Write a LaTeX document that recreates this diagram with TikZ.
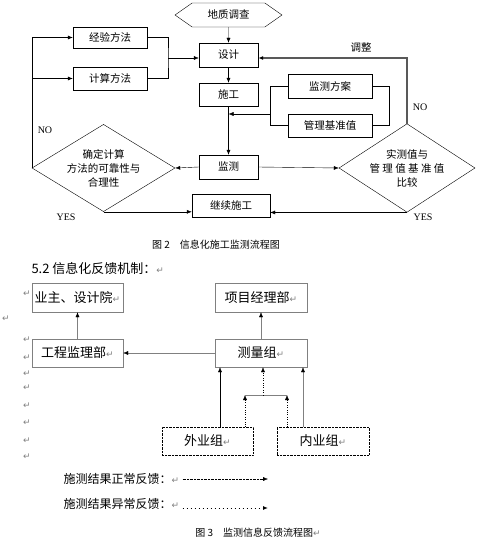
\documentclass[tikz,border=0pt]{standalone}
\usepackage{fontspec}
\setmainfont{Noto Sans CJK SC}
\newfontfamily\retfont{DejaVu Sans}
\newfontfamily\latinfont{Liberation Serif}
\usetikzlibrary{arrows.meta, positioning, shapes.geometric, shapes.symbols, calc}
\newcommand{\ret}{{\retfont\color{gray}\fontsize{9}{10}\selectfont ↵}}

\begin{document}
\begin{tikzpicture}[x=1pt, y=-1pt,
                box/.style={draw, minimum height=23pt, inner sep=2pt, font=\fontsize{10.5}{12}\selectfont},
                fbbox/.style={draw=gray, minimum width=91pt, minimum height=28pt, inner sep=2pt, font=\fontsize{13}{15}\selectfont},
                choice/.style={draw, diamond, inner sep=-6pt, align=center, font=\fontsize{10.5}{14}\selectfont},
                arrow/.style={-{Latex[length=5pt, width=4pt, color=black]}},
                tag/.style={font=\latinfont\fontsize{10}{12}\selectfont},
                caption/.style={font=\fontsize{10}{12}\selectfont}]

                \useasboundingbox (0,0) rectangle (483,543);

                % Flow chart
                \node[draw, signal, signal to=west and east, signal pointer angle=70, minimum width=107pt, minimum height=24pt, font=\fontsize{10.5}{12}\selectfont] (geo) at (228.5,15) {地质调查};
                \node[box, minimum width=59pt, minimum height=24pt] (design) at (228.5,55) {设计};
                \node[box, minimum width=59pt] (build) at (228.5,94.5) {施工};
                \node[box, minimum width=59pt, minimum height=24pt] (monitor) at (228.5,167) {监测};
                \node[box, minimum width=78pt] (resume) at (231,206) {继续施工};
                \node[box, minimum width=74pt, minimum height=21pt] (empiric) at (110,37.5) {经验方法};
                \node[box, minimum width=74pt] (calc) at (110,78.5) {计算方法};
                \node[box, minimum width=84pt, minimum height=24pt] (scheme) at (330,86) {监测方案};
                \node[box, minimum width=84pt] (bench) at (330,125.5) {管理基准值};
                \node[choice, minimum width=143pt, minimum height=78pt] (check) at (103.5,168) {确定计算\\方法的可靠性与\\合理性};
                \node[choice, minimum width=136pt, minimum height=79pt] (compare) at (407,168) {实测值与\\管 理 值 基 准 值\\比较};

                % Connectors
                \draw[arrow] (geo) -- (design);
                \draw[arrow] (design) -- (build);
                \draw[arrow] (build) -- (monitor);
                \coordinate (merge) at (168,58);
                \draw (empiric.east) -| (merge) |- (calc.east);
                \draw[arrow] (merge) -- (merge -| design.west);
                \draw[arrow] (check.west) |- (empiric.west);
                \draw[arrow] (check.west |- calc.west) -- (calc.west);
                \draw[arrow] (monitor.west) -- (check.east);
                \draw[arrow] (monitor.east) -- (compare.west);
                \draw[arrow] (check.south) -- (check.south -| resume.west);
                \draw[arrow] (compare.south) -- (compare.south -| resume.east);
                \draw[arrow, gray!70!black, line width=1.2pt] (compare.north) |- (merge -| design.east);
                \draw (scheme.west) -- ++(-18,0) |- (bench.west);
                \draw (scheme.east) -- ++(17,0) |- (bench.east);
                \coordinate (feed) at (270,114);
                \draw[arrow] (feed) -- (feed -| build.south);

                % Labels
                \node[tag] (noleft) at (45,130) {NO};
                \node[tag] (yesleft) at (66,217) {YES};
                \node[tag] (noright) at (420,107) {NO};
                \node[tag] (yesright) at (423,217) {YES};
                \node[font=\fontsize{10.5}{12}\selectfont] (adjust) at (361,48) {调整};
                \node[caption] (figtwo) at (216,245) {图 2\quad 信息化施工监测流程图};

                % Feedback chart
                \node[anchor=west, font=\fontsize{13}{15}\selectfont] (head) at (28,269) {5.2 信息化反馈机制：\ret};
                \node[fbbox, minimum height=29pt] (owner) at (77.5,297.5) {业主、设计院\ret};
                \node[fbbox, minimum width=92pt, minimum height=29pt] (pm) at (261,297.5) {项目经理部\ret};
                \node[fbbox] (supervise) at (77.5,353) {工程监理部\ret};
                \node[fbbox, minimum width=92pt] (team) at (261,353) {测量组\ret};
                \node[fbbox, draw=black, densely dotted] (field) at (207.5,441) {外业组\ret};
                \node[fbbox, draw=black, densely dotted, minimum width=92pt] (office) at (323,441) {内业组\ret};

                \draw[arrow, gray] (supervise) -- (owner);
                \draw[arrow, gray] (team) -- (pm);
                \draw[arrow, gray] (team) -- (supervise);
                \coordinate (fieldup) at (220,395);
                \coordinate (fielddot) at (245,395);
                \coordinate (joint) at (263,395);
                \coordinate (officedot) at (287,395);
                \coordinate (officeup) at (303,395);
                \draw[arrow] (field.north -| fieldup) -- (fieldup |- team.south);
                \draw[arrow, dotted] (field.north -| fielddot) -- (fielddot);
                \draw[arrow, dotted] (office.north -| officedot) -- (officedot);
                \draw[gray] (fielddot) -- (officedot);
                \draw[arrow, dotted] (joint) -- (joint |- team.south);
                \draw[arrow, gray] (office.north -| officeup) -- (officeup |- team.south);

                % Legend
                \node[anchor=west, font=\fontsize{12}{14}\selectfont] (normal) at (60,479) {施测结果正常反馈：\ret};
                \coordinate (normalend) at (268,479);
                \draw[arrow, densely dotted] (normal.east) -- (normalend);
                \node[anchor=west, font=\fontsize{12}{14}\selectfont] (abnormal) at (60,504) {施测结果异常反馈：\ret};
                \coordinate (abnormalend) at (268,508);
                \draw[arrow, line width=1pt, dash pattern=on 1.5pt off 2.5pt] (abnormal.east |- abnormalend) -- (abnormalend);
                \node[caption] (figthree) at (258,533) {图 3\quad 监测信息反馈流程图\ret};

                % Margin marks
                \foreach \y in {294,340,358,374,388,406,423,441,457}
                    \node (mark\y) at (27,\y) {\ret};
                \node (markout) at (6,319) {\ret};
            \end{tikzpicture}
\end{document}
